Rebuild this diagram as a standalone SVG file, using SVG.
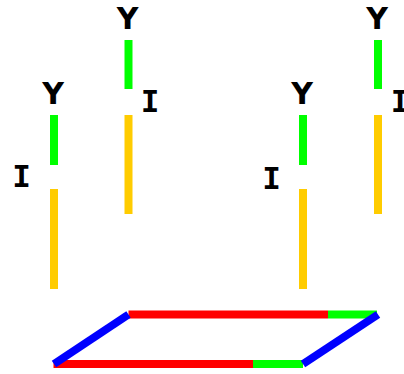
<svg xmlns="http://www.w3.org/2000/svg" width="404" height="374" viewBox="0 0 404 374">
<style>
.y{font-family:"DejaVu Sans",sans-serif;font-weight:bold;font-size:30px;text-anchor:middle;fill:#000}
.i{font-family:"DejaVu Sans Mono",monospace;font-weight:bold;font-size:31px;text-anchor:middle;fill:#000}
.g{stroke:#00ff00;stroke-width:8}
.o{stroke:#ffcc00;stroke-width:8}
.r{stroke:#ff0000;stroke-width:8}
.b{stroke:#0000ff;stroke-width:8}
</style>
<rect width="404" height="374" fill="#fff"/>
<g id="pole1">
<line class="g" x1="54" y1="115" x2="54" y2="165"/>
<line class="o" x1="54" y1="189" x2="54" y2="289"/>
<text class="y" x="53" y="104">Y</text>
<text class="i" x="21.5" y="187">I</text>
</g>
<g id="pole2">
<line class="g" x1="128.5" y1="40" x2="128.5" y2="89"/>
<line class="o" x1="128.5" y1="115" x2="128.5" y2="214"/>
<text class="y" x="127.5" y="29">Y</text>
<text class="i" x="150" y="112">I</text>
</g>
<g id="pole3">
<line class="g" x1="303" y1="115" x2="303" y2="165"/>
<line class="o" x1="303" y1="189" x2="303" y2="289"/>
<text class="y" x="302" y="104">Y</text>
<text class="i" x="271.5" y="189">I</text>
</g>
<g id="pole4">
<line class="g" x1="378" y1="40" x2="378" y2="89"/>
<line class="o" x1="378" y1="115" x2="378" y2="214"/>
<text class="y" x="377" y="29">Y</text>
<text class="i" x="400" y="112">I</text>
</g>
<g id="base">
<line class="r" x1="128.5" y1="314.5" x2="328" y2="314.5"/>
<line class="g" x1="328" y1="314.5" x2="377" y2="314.5"/>
<line class="r" x1="53.5" y1="364" x2="253" y2="364"/>
<line class="g" x1="253" y1="364" x2="303" y2="364"/>
<line class="b" x1="54" y1="364" x2="128.5" y2="314.5"/>
<line class="b" x1="303" y1="364" x2="378" y2="314.5"/>
</g>
</svg>
